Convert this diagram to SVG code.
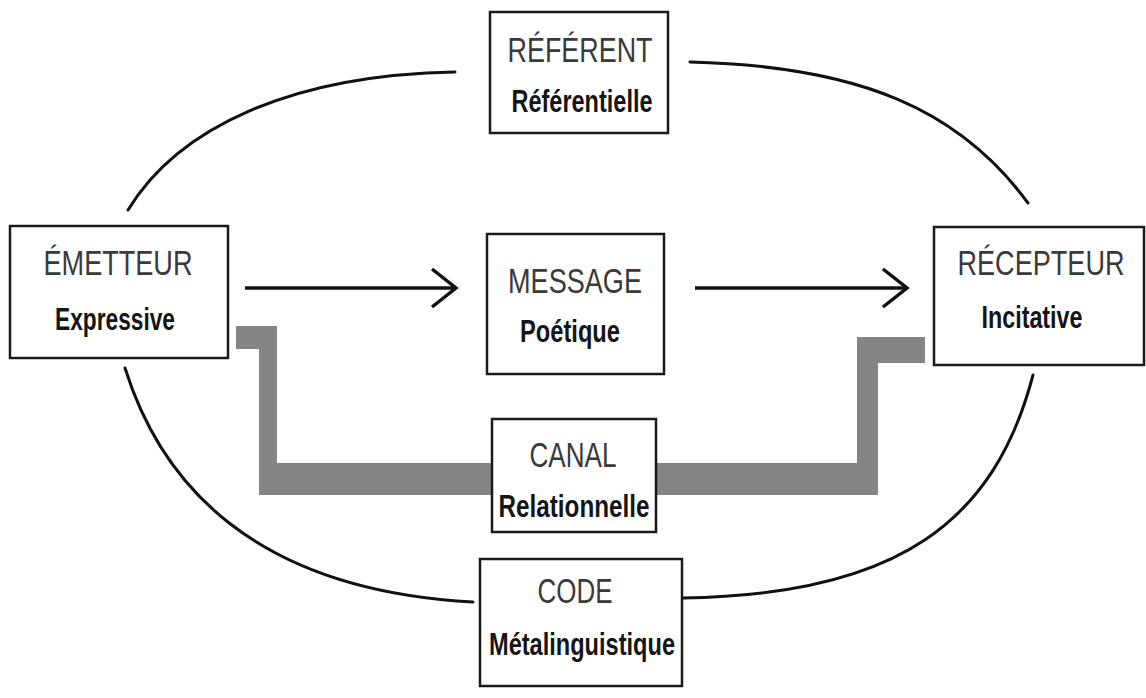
<svg xmlns="http://www.w3.org/2000/svg" width="1146" height="698" viewBox="0 0 1146 698">
<defs>
<style>
.box{fill:#fff;stroke:#1a1a1a;stroke-width:2.5}
.curve{fill:none;stroke:#111;stroke-width:3;stroke-linecap:round}
.arrow{fill:none;stroke:#111;stroke-width:3.5}
.chan{fill:#858585}
.t1{font-family:"Liberation Sans Narrow","Liberation Sans",Arial,sans-serif;font-size:35px;fill:#3a3a3a;text-anchor:middle}
.t2{font-family:"Liberation Sans Narrow","Liberation Sans",Arial,sans-serif;font-size:31px;font-weight:bold;fill:#151515;text-anchor:middle}
</style>
<marker id="chev" markerUnits="userSpaceOnUse" viewBox="-27 -22 30 44" markerWidth="30" markerHeight="44" refX="0" refY="0" orient="auto">
<path d="M-24,-19 L0,0 L-24,19" fill="none" stroke="#111" stroke-width="3.5"/>
</marker>
</defs>
<rect width="1146" height="698" fill="#fff"/>
<g id="connectors">
<path class="curve" d="M128,210 C178,128 290,75 455,72"/>
<path class="curve" d="M690,62 C860,66 960,110 1028,203"/>
<path class="curve" d="M125,368 C160,480 250,590 473,602"/>
<path class="curve" d="M683,598 C900,595 995,520 1033,375"/>
<line class="arrow" x1="245" y1="288" x2="456" y2="288" marker-end="url(#chev)"/>
<line class="arrow" x1="695" y1="288" x2="907" y2="288" marker-end="url(#chev)"/>
<g id="canal-channel">
<rect class="chan" x="236" y="326" width="41" height="23"/>
<rect class="chan" x="259" y="326" width="18" height="169"/>
<rect class="chan" x="259" y="463" width="619" height="32"/>
<rect class="chan" x="857" y="337" width="21" height="158"/>
<rect class="chan" x="857" y="337" width="68" height="26"/>
</g>
</g>
<g id="emetteur">
<rect class="box" x="10" y="226" width="218" height="132"/>
<text class="t1" x="118" y="275" textLength="149" lengthAdjust="spacingAndGlyphs">ÉMETTEUR</text>
<text class="t2" x="115" y="330" textLength="120" lengthAdjust="spacingAndGlyphs">Expressive</text>
</g>
<g id="referent">
<rect class="box" x="490" y="12" width="178" height="121"/>
<text class="t1" x="580" y="62" textLength="145" lengthAdjust="spacingAndGlyphs">RÉFÉRENT</text>
<text class="t2" x="582" y="112" textLength="141" lengthAdjust="spacingAndGlyphs">Référentielle</text>
</g>
<g id="message">
<rect class="box" x="487" y="234" width="177" height="140"/>
<text class="t1" x="575" y="293" textLength="134" lengthAdjust="spacingAndGlyphs">MESSAGE</text>
<text class="t2" x="570" y="342" textLength="100" lengthAdjust="spacingAndGlyphs">Poétique</text>
</g>
<g id="recepteur">
<rect class="box" x="934" y="227" width="210" height="138"/>
<text class="t1" x="1041" y="275" textLength="167" lengthAdjust="spacingAndGlyphs">RÉCEPTEUR</text>
<text class="t2" x="1032" y="328" textLength="101" lengthAdjust="spacingAndGlyphs">Incitative</text>
</g>
<g id="canal">
<rect class="box" x="492" y="419" width="164" height="113"/>
<text class="t1" x="573" y="467" textLength="87" lengthAdjust="spacingAndGlyphs">CANAL</text>
<text class="t2" x="574" y="517" textLength="151" lengthAdjust="spacingAndGlyphs">Relationnelle</text>
</g>
<g id="code">
<rect class="box" x="480" y="559" width="202" height="127"/>
<text class="t1" x="575" y="603" textLength="75" lengthAdjust="spacingAndGlyphs">CODE</text>
<text class="t2" x="582" y="655" textLength="186" lengthAdjust="spacingAndGlyphs">Métalinguistique</text>
</g>
</svg>
